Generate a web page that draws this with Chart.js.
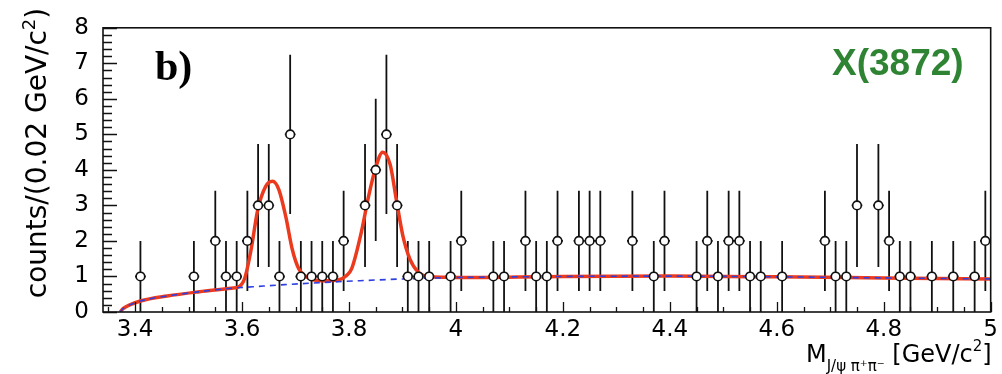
<!DOCTYPE html>
<html>
<head>
<meta charset="utf-8">
<script src="https://cdn.jsdelivr.net/npm/chart.js@4/dist/chart.umd.min.js"></script>
<style>
  html, body { margin: 0; padding: 0; background: #fff; }
  #wrap { width: 1002px; height: 374px; }
</style>
</head>
<body>
<div id="wrap"><canvas id="c" width="1002" height="374"></canvas></div>
<script>
// ---- data ----
const binCenters = [3.41, 3.51, 3.55, 3.57, 3.59, 3.61, 3.63, 3.65, 3.67, 3.69,
  3.71, 3.73, 3.75, 3.77, 3.79, 3.83, 3.85, 3.87, 3.89, 3.91,
  3.93, 3.95, 3.99, 4.01, 4.07, 4.09, 4.13, 4.15, 4.17, 4.19,
  4.23, 4.25, 4.27, 4.33, 4.37, 4.39, 4.45, 4.47, 4.49, 4.51,
  4.53, 4.55, 4.57, 4.61, 4.69, 4.71, 4.73, 4.75, 4.79, 4.81,
  4.83, 4.85, 4.89, 4.93, 4.97, 4.99];
const counts = [1, 1, 2, 1, 1, 2, 3, 3, 1, 5,
  1, 1, 1, 1, 2, 3, 4, 5, 3, 1,
  1, 1, 1, 2, 1, 1, 2, 1, 1, 2,
  2, 2, 2, 2, 1, 2, 1, 2, 1, 2,
  2, 1, 1, 1, 2, 1, 1, 3, 3, 2,
  1, 1, 1, 1, 1, 2];
// error bar half-lengths per count
const countErrors = {1: 1.0, 2: 1.41, 3: 1.73, 4: 2.0, 5: 2.24};
const binHalfWidth = 0.01;

// total fit (red)
const fitX = [3.372, 3.378, 3.39, 3.41, 3.46, 3.52, 3.58, 3.595, 3.605, 3.617,
  3.629, 3.644, 3.657, 3.669, 3.682, 3.694, 3.706, 3.725, 3.75, 3.781,
  3.795, 3.805, 3.824, 3.836, 3.849, 3.863, 3.877, 3.889, 3.901, 3.914,
  3.929, 3.948, 3.979, 4.0, 4.2, 4.4, 4.6, 4.8, 5.0];
const fitY = [0, 0.1, 0.2, 0.31, 0.45, 0.57, 0.67, 0.72, 0.95, 1.76,
  2.85, 3.53, 3.68, 3.44, 2.67, 1.76, 1.22, 0.95, 0.88, 0.91,
  1.02, 1.22, 2.31, 3.21, 4.02, 4.5, 4.15, 3.12, 2.13, 1.49,
  1.13, 1.0, 0.98, 0.97, 1.0, 1.01, 0.99, 0.96, 0.93];
// background (blue dashed)
const bkgX = [3.372, 3.378, 3.39, 3.41, 3.46, 3.52, 3.58, 3.62, 3.68, 3.75,
  3.82, 3.9, 4.0, 4.2, 4.4, 4.6, 4.8, 5.0];
const bkgY = [0, 0.1, 0.2, 0.31, 0.45, 0.57, 0.67, 0.71, 0.77, 0.83,
  0.88, 0.93, 0.97, 1.0, 1.01, 0.99, 0.96, 0.93];

const xTickValues = [3.4, 3.6, 3.8, 4.0, 4.2, 4.4, 4.6, 4.8, 5.0];
const xTickLabels = ['3.4', '3.6', '3.8', '4', '4.2', '4.4', '4.6', '4.8', '5'];
const yTickValues = [0, 1, 2, 3, 4, 5, 6, 7, 8];
const yTickLabels = ['0', '1', '2', '3', '4', '5', '6', '7', '8'];

const xMin = 3.34, xMax = 5.0, yMin = 0, yMax = 8;
const xMinorStep = 0.05, yMinorStep = 0.2;

const pointData = binCenters.map((x, i) => ({x, y: counts[i]}));
const fitData = fitX.map((x, i) => ({x, y: fitY[i]}));
const bkgData = bkgX.map((x, i) => ({x, y: bkgY[i]}));

const TICK_FONT = '"DejaVu Sans", sans-serif';

const errorBarPlugin = {
  id: 'errorBars',
  beforeDatasetsDraw(chart) {
    const {ctx, scales: {x, y}, chartArea: a} = chart;
    ctx.save();
    ctx.beginPath();
    ctx.rect(a.left, a.top, a.right - a.left + 6, a.bottom - a.top);
    ctx.clip();
    ctx.strokeStyle = '#111';
    ctx.lineWidth = 1.8;
    binCenters.forEach((bc, i) => {
      const n = counts[i];
      const e = countErrors[n];
      const px = x.getPixelForValue(bc);
      ctx.beginPath();
      ctx.moveTo(px, y.getPixelForValue(Math.max(0, n - e)));
      ctx.lineTo(px, y.getPixelForValue(n + e));
      ctx.moveTo(x.getPixelForValue(bc - binHalfWidth), y.getPixelForValue(n));
      ctx.lineTo(x.getPixelForValue(bc + binHalfWidth), y.getPixelForValue(n));
      ctx.stroke();
    });
    ctx.restore();
  }
};

const frameAndTextPlugin = {
  id: 'frameText',
  afterDraw(chart) {
    const {ctx, scales: {x, y}, chartArea: a} = chart;
    ctx.save();
    // ticks inside the frame
    ctx.strokeStyle = '#111';
    ctx.lineWidth = 1.3;
    ctx.beginPath();
    const nY = Math.round((yMax - yMin) / yMinorStep);
    for (let i = 0; i <= nY; i++) {
      const v = yMin + i * yMinorStep;
      const py = Math.round(y.getPixelForValue(v)) + 0.5;
      const len = (i % 5 === 0) ? 14 : 9;
      ctx.moveTo(a.left, py); ctx.lineTo(a.left + len, py);
    }
    const nX = Math.round((xMax - 3.35) / xMinorStep);
    for (let i = 0; i <= nX; i++) {
      const v = 3.35 + i * xMinorStep;
      const px = Math.round(x.getPixelForValue(v)) + 0.5;
      const major = Math.abs(((v - 3.4) / 0.2) - Math.round((v - 3.4) / 0.2)) < 1e-6;
      const len = major ? 10 : 5;
      ctx.moveTo(px, a.bottom); ctx.lineTo(px, a.bottom - len);
    }
    ctx.stroke();
    // frame
    ctx.lineWidth = 1.6;
    ctx.strokeStyle = '#111';
    ctx.strokeRect(a.left, a.top, a.right - a.left, a.bottom - a.top);

    // "b)"
    ctx.fillStyle = '#000';
    ctx.font = 'bold 42px "Liberation Serif", "Times New Roman", serif';
    ctx.textAlign = 'left';
    ctx.textBaseline = 'alphabetic';
    ctx.fillText('b)', 155, 80);

    // X(3872)
    ctx.fillStyle = '#2f8434';
    ctx.font = 'bold 37px "Liberation Sans", Arial, sans-serif';
    ctx.fillText('X(3872)', 832, 75);

    // y-axis title
    ctx.fillStyle = '#000';
    ctx.save();
    ctx.translate(46, 153);
    ctx.rotate(-Math.PI / 2);
    const big = '28px ' + TICK_FONT;
    const small = '18px ' + TICK_FONT;
    const parts = [
      {t: 'counts/(0.02 GeV/c', f: big, dy: 0},
      {t: '2', f: small, dy: -11},
      {t: ')', f: big, dy: 0}
    ];
    let total = 0;
    parts.forEach(p => { ctx.font = p.f; p.w = ctx.measureText(p.t).width; total += p.w; });
    let cx = -total / 2;
    parts.forEach(p => { ctx.font = p.f; ctx.fillText(p.t, cx, p.dy); cx += p.w; });
    ctx.restore();

    // x-axis title, right aligned to frame
    const xbig = '24px ' + TICK_FONT;
    const xsmall = '15px ' + TICK_FONT;
    const xparts = [
      {t: 'M', f: xbig, dy: 0},
      {t: 'J/\u03C8 \u03C0\u207A\u03C0\u207B', f: xsmall, dy: 9},
      {t: ' [GeV/c', f: xbig, dy: 0},
      {t: '2', f: xsmall, dy: -11},
      {t: ']', f: xbig, dy: 0}
    ];
    let tw = 0;
    xparts.forEach(p => { ctx.font = p.f; p.w = ctx.measureText(p.t).width; tw += p.w; });
    let sx = a.right + 1 - tw;
    xparts.forEach(p => { ctx.font = p.f; ctx.fillText(p.t, sx, 362 + p.dy); sx += p.w; });
    ctx.restore();
  }
};

new Chart(document.getElementById('c'), {
  type: 'scatter',
  data: {
    datasets: [
      {
        label: 'data',
        data: pointData,
        showLine: false,
        pointRadius: 4.3,
        pointHoverRadius: 4.3,
        pointBackgroundColor: '#ffffff',
        pointBorderColor: '#111',
        pointBorderWidth: 1.6,
        clip: false,
        order: 0
      },
      {
        label: 'background',
        type: 'line',
        data: bkgData,
        borderColor: '#2f3fe0',
        borderWidth: 1.6,
        borderDash: [6, 5],
        pointRadius: 0,
        fill: false,
        cubicInterpolationMode: 'monotone',
        order: 1
      },
      {
        label: 'fit',
        type: 'line',
        data: fitData,
        borderColor: '#ec3a1e',
        borderWidth: 3.5,
        pointRadius: 0,
        fill: false,
        cubicInterpolationMode: 'monotone',
        order: 2
      }
    ]
  },
  options: {
    responsive: false,
    animation: false,
    devicePixelRatio: 1,
    layout: { padding: { top: 17, right: 5.5, left: 0, bottom: 0 } },
    plugins: { legend: { display: false }, tooltip: { enabled: false } },
    scales: {
      x: {
        type: 'linear',
        min: xMin, max: xMax,
        afterBuildTicks: s => { s.ticks = xTickValues.map(v => ({value: v})); },
        afterFit: s => { s.height = 62; },
        ticks: {
          autoSkip: false, maxRotation: 0, minRotation: 0,
          padding: 4, color: '#000',
          font: { family: TICK_FONT, size: 23 },
          callback: (v, i) => xTickLabels[i]
        },
        grid: { display: false, drawTicks: false },
        border: { display: false }
      },
      y: {
        type: 'linear',
        min: yMin, max: yMax,
        afterBuildTicks: s => { s.ticks = yTickValues.map(v => ({value: v})); },
        afterFit: s => { s.width = 103; },
        ticks: {
          padding: 14, color: '#000',
          font: { family: TICK_FONT, size: 23 },
          callback: (v, i) => yTickLabels[i]
        },
        grid: { display: false, drawTicks: false },
        border: { display: false }
      }
    }
  },
  plugins: [errorBarPlugin, frameAndTextPlugin]
});
</script>
</body>
</html>
